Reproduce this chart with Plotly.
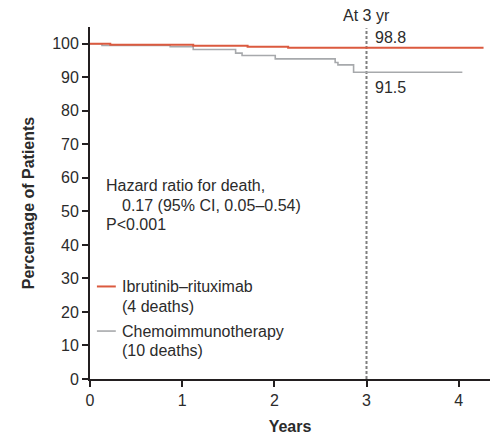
import plotly.graph_objects as go

# Kaplan-Meier step data (years, percentage)
ibr_t = [0, 0.22, 1.12, 1.71, 2.15, 4.27]
ibr_s = [100, 99.7, 99.4, 99.1, 98.8, 98.8]

chemo_t = [0, 0.13, 0.87, 1.12, 1.58, 1.65, 2.01, 2.66, 2.69, 2.86, 4.04]
chemo_s = [100, 99.5, 99.1, 98.3, 97.2, 96.5, 95.5, 94.4, 93.7, 91.5, 91.5]

x_ticks = [0, 1, 2, 3, 4]
y_ticks = [0, 10, 20, 30, 40, 50, 60, 70, 80, 90, 100]
landmark_year = 3
landmark_ibr = 98.8
landmark_chemo = 91.5

RED = "#db5a3f"
GRAY = "#a7a9ac"
TXT = "#2b2b2b"
FONT = "Liberation Sans"
FS = 16

fig = go.Figure()
fig.add_trace(go.Scatter(x=chemo_t, y=chemo_s, mode="lines", line=dict(color=GRAY, width=1.6, shape="hv"),
                         showlegend=False, cliponaxis=False))
fig.add_trace(go.Scatter(x=ibr_t, y=ibr_s, mode="lines", line=dict(color=RED, width=2, shape="hv"),
                         showlegend=False, cliponaxis=False))

# landmark dashed line
fig.add_shape(type="line", x0=landmark_year, x1=landmark_year, y0=0, y1=104.6, xref="x", yref="y",
              line=dict(color="#7f7f7f", width=2, dash="3px,2px"), layer="below")

ann = []
def A(x, y, text, xanchor="left", xref="x", yref="y", **kw):
    ann.append(dict(x=x, y=y, text=text, xref=xref, yref=yref, xanchor=xanchor, yanchor="middle",
                    showarrow=False, font=dict(family=FONT, size=FS, color=TXT), **kw))

A(landmark_year, 1.034, "At 3 yr", xanchor="center", yref="paper")
A(landmark_year + 0.07, 101.8, f"{landmark_ibr}", xanchor="left")
A(landmark_year + 0.07, 86.9, f"{landmark_chemo}", xanchor="left")

A(0.15, 57.8, "Hazard ratio for death,")
A(0.33, 51.9, "0.17 (95% CI, 0.05\u20130.54)")
A(0.15, 46.0, "P<0.001")

A(0.325, 27.6, "Ibrutinib\u2013rituximab")
A(0.325, 21.6, "(4 deaths)")
A(0.325, 14.3, "Chemoimmunotherapy")
A(0.325, 8.4, "(10 deaths)")

# legend swatches
fig.add_shape(type="line", x0=0.075, x1=0.28, y0=27.6, y1=27.6, xref="x", yref="y", line=dict(color=RED, width=2))
fig.add_shape(type="line", x0=0.075, x1=0.28, y0=14.3, y1=14.3, xref="x", yref="y", line=dict(color=GRAY, width=1.6))

fig.update_layout(
    width=490, height=435,
    margin=dict(l=90, r=0, t=27, b=56),
    plot_bgcolor="white", paper_bgcolor="white",
    annotations=ann,
    font=dict(family=FONT, size=FS, color=TXT),
    xaxis=dict(range=[0, 4.34], tickvals=x_ticks, ticks="outside", ticklen=6, tickwidth=1.5,
               tickcolor="#231f20", showline=True, linecolor="#231f20", linewidth=1.8,
               showgrid=False, zeroline=False, tickfont=dict(family=FONT, size=FS, color=TXT),
               title=dict(text="<b>Years</b>", font=dict(family=FONT, size=FS, color=TXT), standoff=16)),
    yaxis=dict(range=[0, 105], tickvals=y_ticks, ticks="outside", ticklen=6, tickwidth=1.5,
               tickcolor="#231f20", showline=True, linecolor="#231f20", linewidth=1.8,
               showgrid=False, zeroline=False, tickfont=dict(family=FONT, size=FS, color=TXT),
               title=dict(text="<b>Percentage of Patients</b>", font=dict(family=FONT, size=FS, color=TXT), standoff=14)),
)

fig.write_html("out.html")
